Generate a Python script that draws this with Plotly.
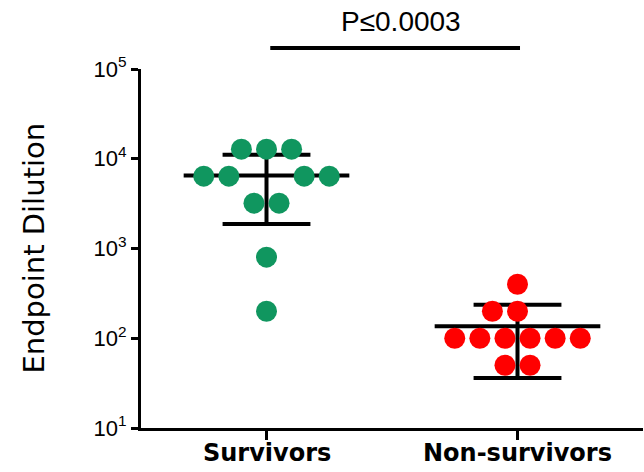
import numpy as np
import plotly.graph_objects as go

# ---- data ----
categories = ["Survivors", "Non-survivors"]
survivors = [12800, 12800, 12800, 6400, 6400, 6400, 6400, 3200, 3200, 800, 200]
non_survivors = [400, 200, 200, 100, 100, 100, 100, 100, 100, 50, 50]
y_tick_vals = [10, 100, 1000, 10000, 100000]
y_tick_text = ["10<sup>1</sup>", "10<sup>2</sup>", "10<sup>3</sup>", "10<sup>4</sup>", "10<sup>5</sup>"]
p_label = "P\u22640.0003"

# ---- layout of the swarm (horizontal slots, in units of one dot spacing) ----
surv_slots = [-1, 0, 1, -2.5, -1.5, 1.5, 2.5, -0.5, 0.5, 0, 0]
nons_slots = [0, -1, 0, -2.5, -1.5, -0.5, 0.5, 1.5, 2.5, -0.5, 0.5]
slot_w = 0.1
colors = ["#10965F", "#FF0000"]
groups = [survivors, non_survivors]
slots = [surv_slots, nons_slots]

fig = go.Figure()

# mean +/- SD lines
for i, vals in enumerate(groups):
    v = np.array(vals, dtype=float)
    m = v.mean()
    sd = v.std(ddof=1)
    xs = [i - 0.33, i + 0.33, None, i, i, None, i - 0.175, i + 0.175, None, i - 0.175, i + 0.175]
    ys = [m, m, None, m - sd, m + sd, None, m + sd, m + sd, None, m - sd, m - sd]
    fig.add_trace(go.Scatter(x=xs, y=ys, mode="lines", line=dict(color="black", width=4),
                             hoverinfo="skip", showlegend=False))

# points
for i, vals in enumerate(groups):
    xs = [i + s * slot_w for s in slots[i]]
    fig.add_trace(go.Scatter(x=xs, y=vals, mode="markers",
                             marker=dict(color=colors[i], size=21, line=dict(width=0)),
                             showlegend=False, name=categories[i]))

# category labels (placed just under the axis)
for i, name in enumerate(categories):
    fig.add_annotation(xref="x", yref="paper", x=i, y=-0.07, xanchor="center", yanchor="middle",
                       text=name, showarrow=False,
                       font=dict(family="DejaVu Sans", size=24, color="black", weight="bold"))

# significance bar
fig.add_shape(type="line", xref="x", yref="paper", x0=0.015, x1=1.01, y0=1.0585, y1=1.0585,
              line=dict(color="black", width=4))
fig.add_annotation(xref="x", yref="paper", x=0.535, y=1.131, yanchor="middle", text=p_label,
                   showarrow=False,
                   font=dict(family="Liberation Sans, Arial", size=28, color="black"))

# y-axis title
fig.add_annotation(xref="paper", yref="paper", x=-0.215, y=0.50, xanchor="center", yanchor="middle",
                   text="Endpoint Dilution", textangle=-90, showarrow=False,
                   font=dict(family="DejaVu Sans", size=29, color="black"))

fig.update_layout(
    template="none",
    width=644, height=472,
    margin=dict(l=141, r=1, t=69, b=44, autoexpand=False),
    paper_bgcolor="white", plot_bgcolor="white",
    xaxis=dict(range=[-0.5, 1.5], tickvals=[0, 1], showticklabels=False, automargin=False,
               showline=True, linecolor="black", linewidth=3,
               ticks="outside", ticklen=9, tickwidth=3, tickcolor="black",
               showgrid=False, zeroline=False),
    yaxis=dict(type="log", range=[1, 5], tickvals=y_tick_vals, ticktext=y_tick_text, automargin=False,
               showline=True, linecolor="black", linewidth=3,
               ticks="outside", ticklen=7, tickwidth=3, tickcolor="black",
               showgrid=False, zeroline=False,
               tickfont=dict(family="Liberation Sans, Arial", size=22, color="black")),
)

fig.write_html("out.html", config={"displayModeBar": False},
               post_script="document.body.style.margin='0';")
